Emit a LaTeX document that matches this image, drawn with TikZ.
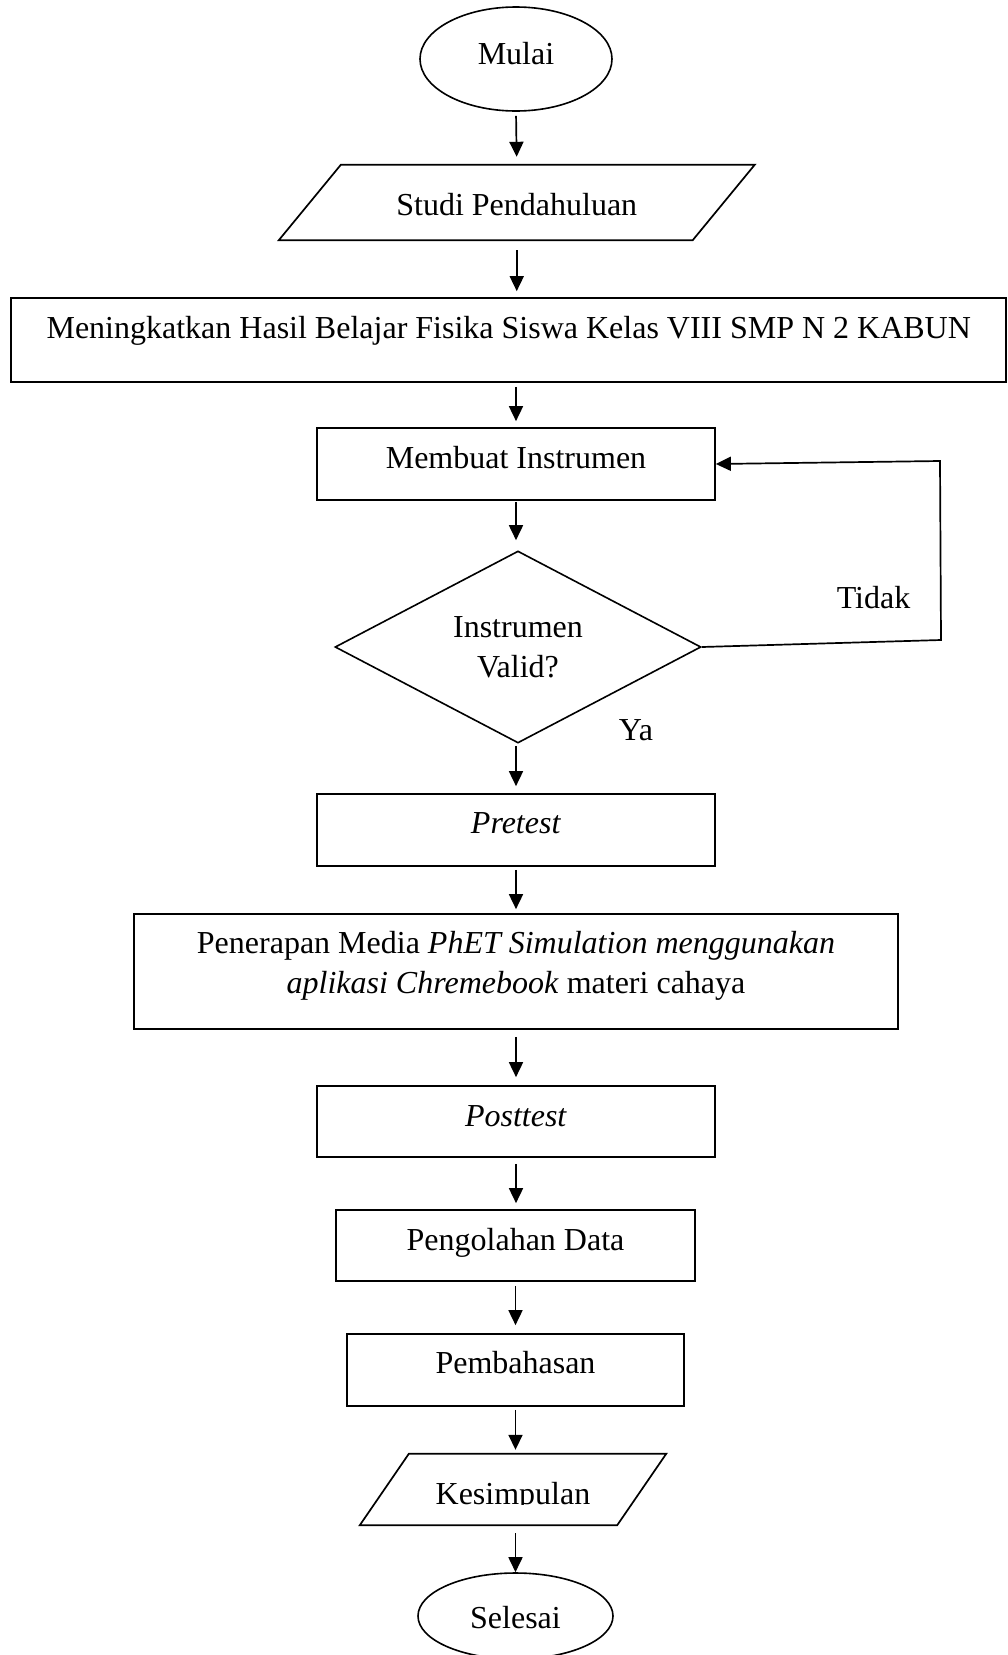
\documentclass[tikz,border=0pt]{standalone}
\usepackage{fontspec}
\setmainfont{Liberation Serif}
\usetikzlibrary{shapes.geometric,arrows.meta}

\begin{document}
\begin{tikzpicture}[x=1pt,y=-1pt,
  every node/.style={font=\fontsize{32pt}{40pt}\selectfont, inner sep=0pt},
  box/.style={draw, rectangle, line width=1.7pt},
  term/.style={draw, ellipse, line width=1.6pt},
  iobody/.style={rectangle},
  edge/.style={line width=1.7pt},
  arr/.style={line width=1.7pt, -{Triangle[length=15pt,width=14pt]}},
  lbl/.style={anchor=base}]

% page area
\useasboundingbox (0,0) rectangle (1008,1655);
\fill[white] (0,0) rectangle (1008,1655);
\clip (0,0) rectangle (1008,1655);

% start
\node[term, minimum width=192pt, minimum height=104pt, text height=24pt, text depth=14pt] (mulai) at (516,59) {Mulai};

% input: preliminary study
\node[iobody, minimum width=413.5pt, minimum height=75pt, text height=25pt, text depth=0pt] (studi) at (516.75,202.5) {Studi Pendahuluan};
\draw[edge] ([xshift=31pt]studi.north west) -- ([xshift=31pt]studi.north east)
  -- ([xshift=-31pt]studi.south east) -- ([xshift=-31pt]studi.south west) -- cycle;

% process steps
\node[box, minimum width=995pt, minimum height=84pt, text height=24pt, text depth=28pt] (mening) at (508.75,340) {Meningkatkan Hasil Belajar Fisika Siswa Kelas VIII SMP N 2 KABUN};
\node[box, minimum width=398pt, minimum height=72pt, text height=24pt, text depth=16pt] (membuat) at (516,464) {Membuat Instrumen};
\node[draw, diamond, aspect=2, line width=1.6pt, minimum width=366pt, minimum height=192pt, align=center] (valid) at (518,647) {Instrumen\\Valid?};
\node[box, minimum width=398pt, minimum height=72pt, text height=24pt, text depth=18pt] (pre) at (516,830) {\textit{Pretest}};
\node[box, minimum width=764pt, minimum height=115pt, align=center, text height=43pt, text depth=0pt] (terap) at (516,971.5) {Penerapan Media \textit{PhET Simulation menggunakan}\\\textit{aplikasi Chremebook} materi cahaya};
\node[box, minimum width=398pt, minimum height=71pt, text height=24pt, text depth=15pt] (post) at (516,1121.5) {\textit{Posttest}};
\node[box, minimum width=359pt, minimum height=71pt, text height=24pt, text depth=15pt] (olah) at (515.5,1245.5) {Pengolahan Data};
\node[box, minimum width=337pt, minimum height=72pt, text height=24pt, text depth=18pt] (bahas) at (515.5,1370) {Pembahasan};

% output: conclusion (text box cut at its lower edge)
\begin{scope}
  \clip (0,0) rectangle (1008,1504);
  \node[iobody, minimum width=257pt, minimum height=71pt, text height=29pt, text depth=0pt] (simpul) at (513,1489.5) {Kesimpulan};
\end{scope}
\draw[edge] ([xshift=24.5pt]simpul.north west) -- ([xshift=24.5pt]simpul.north east)
  -- ([xshift=-24.5pt]simpul.south east) -- ([xshift=-24.5pt]simpul.south west) -- cycle;

% end
\node[term, minimum width=195pt, minimum height=86pt, text height=24pt, text depth=0pt] (selesai) at (515.5,1616) {Selesai};

% decision labels
\node[lbl] (tidak) at (873.5,608) {Tidak};
\node[lbl] (ya) at (636,740) {Ya};

% main flow
\draw[arr, shorten <=4pt, shorten >=8pt] (mulai.south) -- (studi.north);
\draw[arr, shorten <=10pt, shorten >=6pt] (studi.south) -- (studi.south |- mening.north);
\draw[arr, shorten <=4pt, shorten >=6pt] (membuat.north |- mening.south) -- (membuat.north);
\draw[arr, shorten <=1pt, shorten >=10pt] (membuat.south) -- (membuat.south |- valid.north);
\draw[arr, shorten <=2pt, shorten >=7pt] (valid.south -| pre.north) -- (pre.north);
\draw[arr, shorten <=3pt, shorten >=4pt] (pre.south) -- (terap.north);
\draw[arr, shorten <=7pt, shorten >=8pt] (terap.south) -- (post.north);
\draw[arr, shorten <=6pt, shorten >=6pt] (post.south) -- (post.south |- olah.north);
\draw[arr, shorten <=4pt, shorten >=8pt] (olah.south) -- (bahas.north);
\draw[arr, shorten <=3pt, shorten >=4pt] (bahas.south) -- (bahas.south |- simpul.north);
\draw[arr, shorten <=8pt] (selesai.north |- simpul.south) -- (selesai.north);

% loop back when the instrument is not valid
\coordinate (fbA) at (941,640);
\coordinate (fbB) at (940,461);
\draw[arr] (valid.east) -- (fbA) -- (fbB) -- (membuat.east);
\end{tikzpicture}
\end{document}
